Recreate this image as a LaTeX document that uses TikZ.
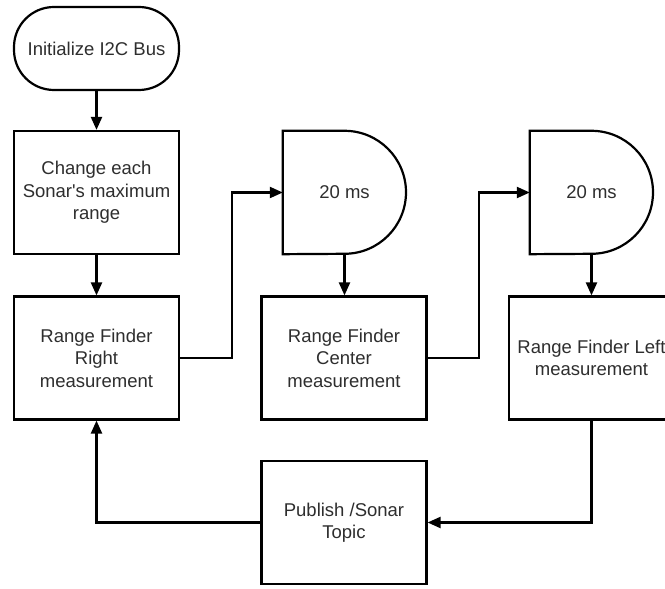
\documentclass[tikz,border=0pt]{standalone}
\usepackage{fontspec}
\setmainfont{Liberation Sans}
\usetikzlibrary{arrows.meta}
\begin{document}
\begin{tikzpicture}[x=1pt,y=1pt,
  every node/.style={font=\fontsize{18.5}{22.5}\selectfont, text=black!82, align=center},
  proc/.style={draw, line width=2.2pt, minimum width=165pt, minimum height=123pt, inner sep=0pt},
  term/.style={draw, line width=2.2pt, minimum width=165pt, minimum height=83pt, inner sep=0pt, rounded corners=40pt},
  waitbox/.style={minimum width=123pt, minimum height=123pt, inner sep=0pt},
  wire/.style={line width=2.2pt},
  link/.style={wire, -{Triangle[length=13pt,width=11pt]}}]

\fill[white] (0,0) rectangle (665,589);
\useasboundingbox (0,0) rectangle (665,589);

% process steps
\node[term] (init)   at (96.5,540.5) {Initialize I2C Bus};
\node[proc] (change) at (96.5,396.5) {Change each\\Sonar\textquotesingle s maximum\\range};
\node[proc] (right)  at (96.5,231)   {Range Finder\\Right\\measurement};
\node[waitbox] (d1)  at (344.5,396.5) {20 ms};
\node[proc] (center) at (344,231)    {Range Finder\\Center\\measurement};
\node[waitbox] (d2)  at (591.5,396.5) {20 ms};
\node[proc] (left)   at (591.5,231)  {Range Finder Left\\measurement};
\node[proc] (pub)    at (344,66.5)   {Publish /Sonar\\Topic};

% delay outlines: flat left side, round right side
\foreach \d in {d1,d2}
  \draw[wire] (\d.north west) -- (\d.north) arc[start angle=90, end angle=-90, radius=61.5pt]
    -- (\d.south west) -- cycle;

% connectors
\draw[link] (init) -- (change);
\draw[link] (change) -- (right);
\draw[link] (right.east) -- ++(52,0) |- (d1.west);
\draw[link] (d1.south) -- (d1.south |- center.north);
\draw[link] (center.east) -- ++(51,0) |- (d2.west);
\draw[link] (d2.south) -- (d2.south |- left.north);
\draw[link] (left.south) |- (pub.east);
\draw[link] (pub.west) -| (right.south);
\end{tikzpicture}
\end{document}
